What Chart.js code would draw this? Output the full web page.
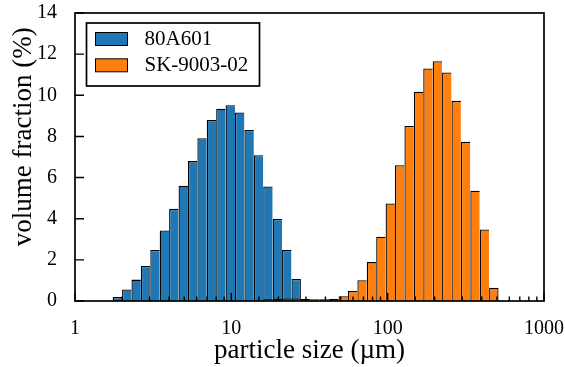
<!DOCTYPE html>
<html><head><meta charset="utf-8">
<script src="https://cdn.jsdelivr.net/npm/chart.js@4"></script>
<style>html,body{margin:0;padding:0;background:#fff}#wrap{width:565px;height:367px;position:relative}</style>
</head><body><div id="wrap"><canvas id="c"></canvas></div>
<script>
// geometric bin centres (µm), ratio 2^(1/5) between bins
const binCenters = [1.866, 2.144, 2.462, 2.828, 3.249, 3.732, 4.287, 4.925, 5.657, 6.498,
  7.464, 8.574, 9.849, 11.314, 12.996, 14.929, 17.148, 19.698, 22.627, 25.992,
  29.857, 34.297, 39.397, 45.255, 51.984, 59.714, 68.594, 78.793, 90.510, 103.968,
  119.428, 137.187, 157.587, 181.019, 207.937, 238.856, 274.374, 315.173, 362.039, 415.873, 477.713];
const volume80A601 = [0.19, 0.56, 1.04, 1.70, 2.48, 3.43, 4.48, 5.60, 6.80, 7.91,
  8.80, 9.35, 9.52, 9.16, 8.31, 7.09, 5.57, 3.99, 2.48, 1.07,
  null, null, null, null, null, null, null, null, null, null,
  null, null, null, null, null, null, null, null, null, null, null];
const volumeSK900302 = [null, null, null, null, null, null, null, null, null, null,
  null, null, null, null, null, null, 0.08, 0.10, 0.12, 0.12,
  0.10, 0.08, 0.08, 0.10, 0.23, 0.49, 1.01, 1.89, 3.12, 4.74,
  6.60, 8.51, 10.17, 11.30, 11.66, 11.11, 9.73, 7.74, 5.36, 3.48, 0.65];
const seriesLabels = ['80A601', 'SK-9003-02'];
const seriesColors = ['#1f77b4', '#ff7f0e'];
const xLabelValues = [1, 10, 100, 1000];
const yTickValues = [0, 2, 4, 6, 8, 10, 12, 14];

const FONT = "'Liberation Serif', 'Times New Roman', serif";

function edgeWidths(values) {
  return (ctx) => {
    const i = ctx.dataIndex;
    const next = values[i + 1];
    const last = (next === null || next === undefined);
    return {top: 1.3, left: 1.3, right: last ? 1.3 : 0, bottom: 0};
  };
}

const decorPlugin = {
  id: 'decor',
  afterDatasetsDraw(chart) {
    const {ctx, chartArea: a, scales: {x, y}} = chart;
    ctx.save();
    ctx.strokeStyle = '#000';
    ctx.lineWidth = 1.4;
    ctx.beginPath();
    x.ticks.forEach(t => {
      const v = t.value;
      const lg = Math.log10(v);
      const major = Math.abs(lg - Math.round(lg)) < 1e-9;
      const px = x.getPixelForValue(v);
      const len = major ? 8 : 4.5;
      ctx.moveTo(px, a.bottom);
      ctx.lineTo(px, a.bottom - len);
    });
    y.ticks.forEach(t => {
      const py = y.getPixelForValue(t.value);
      ctx.moveTo(a.left, py);
      ctx.lineTo(a.left + 9, py);
    });
    ctx.stroke();
    ctx.lineWidth = 1.7;
    ctx.strokeRect(a.left, a.top, a.right - a.left, a.bottom - a.top);
    ctx.restore();
  },
  afterDraw(chart) {
    const {ctx, chartArea: a} = chart;
    const lx = a.left + 11.5, ly = a.top + 10, lw = 173, lh = 63;
    ctx.save();
    ctx.fillStyle = '#fff';
    ctx.fillRect(lx, ly, lw, lh);
    ctx.strokeStyle = '#000';
    ctx.lineWidth = 1.7;
    ctx.strokeRect(lx, ly, lw, lh);
    chart.data.datasets.forEach((ds, i) => {
      const sy = ly + 9.5 + i * 26.3;
      ctx.fillStyle = ds.backgroundColor;
      ctx.fillRect(lx + 9, sy, 32, 13);
      ctx.lineWidth = 1;
      ctx.strokeRect(lx + 9, sy, 32, 13);
      ctx.fillStyle = '#000';
      ctx.font = "21px " + FONT;
      ctx.textBaseline = 'middle';
      ctx.textAlign = 'left';
      ctx.fillText(ds.label, lx + 58, sy + 7);
    });
    ctx.restore();
  }
};

const chart = new Chart(document.getElementById('c'), {
  type: 'bar',
  data: {
    labels: binCenters,
    datasets: [
      {label: seriesLabels[0], data: volume80A601, backgroundColor: seriesColors[0],
        borderColor: '#000', borderWidth: edgeWidths(volume80A601), order: 1},
      {label: seriesLabels[1], data: volumeSK900302, backgroundColor: seriesColors[1],
        borderColor: '#000', borderWidth: edgeWidths(volumeSK900302), order: 0}
    ]
  },
  options: {
    responsive: true,
    maintainAspectRatio: false,
    animation: false,
    devicePixelRatio: 1,
    layout: {padding: {top: 13, right: 21, bottom: 0, left: 0}},
    datasets: {bar: {barThickness: 8, categoryPercentage: 1, barPercentage: 1, grouped: false,
      borderSkipped: false, inflateAmount: 0}},
    plugins: {legend: {display: false}, tooltip: {enabled: false}},
    scales: {
      x: {
        type: 'logarithmic', min: 1, max: 1000, offset: false,
        grid: {display: false}, border: {display: false},
        ticks: {
          autoSkip: false, maxRotation: 0, minRotation: 0, padding: 8, color: '#000',
          font: {family: FONT, size: 20},
          callback: (v) => xLabelValues.includes(v) ? String(v) : ''
        },
        title: {display: true, text: 'particle size (µm)', color: '#000',
          font: {family: FONT, size: 27}, padding: {top: 0, bottom: 0}},
        afterFit(s) { s.height = 66; s.paddingLeft = 0; s.paddingRight = 0; }
      },
      y: {
        min: 0, max: 14,
        grid: {display: false}, border: {display: false},
        afterBuildTicks(s) { s.ticks = yTickValues.map(v => ({value: v})); },
        ticks: {padding: 10, color: '#000', font: {family: FONT, size: 20}},
        title: {display: true, text: '      volume fraction (%)', color: '#000',
          font: {family: FONT, size: 27}, padding: {top: 8, bottom: 0}},
        afterFit(s) { s.width = 75; s.paddingTop = 0; s.paddingBottom = 0; }
      }
    }
  },
  plugins: [decorPlugin]
});
// bar width = one bin on the log axis, measured through the x scale
const xs = chart.scales.x;
chart.options.datasets.bar.barThickness =
  Math.abs(xs.getPixelForValue(binCenters[1]) - xs.getPixelForValue(binCenters[0]));
chart.update();
</script></body></html>
